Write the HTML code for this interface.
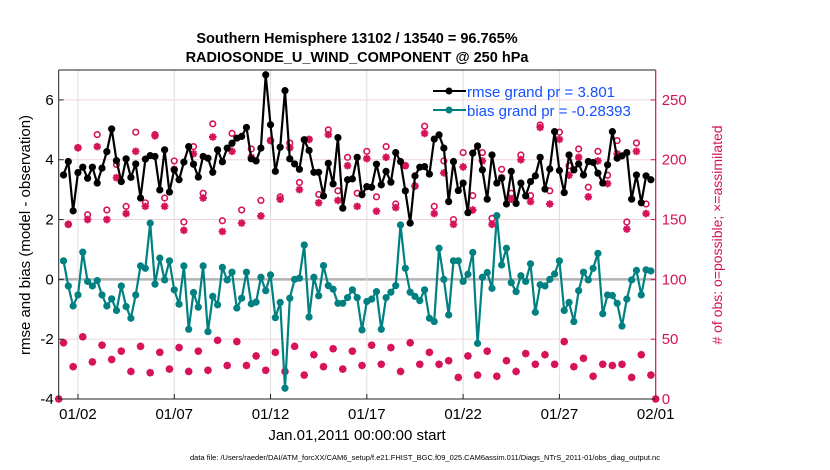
<!DOCTYPE html>
<html><head><meta charset="utf-8"><style>
body{margin:0;background:#fff;}
svg{display:block;font-family:"Liberation Sans",sans-serif;}
</style></head><body>
<svg id="chart" width="830" height="470" viewBox="0 0 830 470" xmlns="http://www.w3.org/2000/svg">
<rect x="0" y="0" width="830" height="470" fill="#fff"/>
<text x="357" y="43" text-anchor="middle" font-size="14.5" font-weight="bold">Southern Hemisphere 13102 / 13540 = 96.765%</text>
<text x="357" y="62" text-anchor="middle" font-size="14.5" font-weight="bold">RADIOSONDE_U_WIND_COMPONENT @ 250 hPa</text>
<g id="grid"></g>
<g id="marks"></g>
<g id="axes"></g>
<text x="357" y="440" text-anchor="middle" font-size="15">Jan.01,2011 00:00:00 start</text>
<text transform="translate(30,235) rotate(-90)" text-anchor="middle" font-size="15">rmse and bias (model - observation)</text>
<text transform="translate(722,235) rotate(-90)" text-anchor="middle" font-size="14" fill="#d6125a">
# of obs: o=possible; ×=assimilated</text>
<text x="425" y="460" text-anchor="middle" font-size="7.5">data file: /Users/raeder/DAI/ATM_forcXX/CAM6_setup/f.e21.FHIST_BGC.f09_025.CAM6assim.011/Diags_NTrS_2011-01/obs_diag_output.nc</text>
<g id="legend">
<line x1="433" y1="91" x2="466" y2="91" stroke="#000" stroke-width="2"/>
<circle cx="449" cy="91" r="3.5" fill="#000"/>
<text x="467" y="97" font-size="15" fill="#1450ff">rmse grand pr = 3.801</text>
<line x1="433" y1="110" x2="466" y2="110" stroke="#008080" stroke-width="2"/>
<circle cx="449" cy="110" r="3.5" fill="#008080"/>
<text x="467" y="116" font-size="15" fill="#1450ff">bias grand pr = -0.28393</text>
</g>
</svg>
<script>
const rmse = [null,
3.49,3.94,2.29,3.57,3.75,3.38,3.75,3.22,3.72,4.27,5.03,3.97,3.27,4.03,3.41,3.86,2.72,4.02,4.14,4.11,2.99,4.33,2.92,3.66,3.33,3.92,4.44,3.85,3.42,4.11,4.05,3.58,4.33,3.93,4.39,4.55,4.72,4.78,5.08,4.03,3.96,4.39,
6.84,5.17,3.61,4.42,6.31,4.03,3.86,3.68,4.67,4.31,3.58,3.58,2.79,3.88,3.19,4.74,2.38,3.33,3.36,4.08,2.83,3.10,3.08,3.85,3.16,3.61,3.25,4.24,3.94,2.96,1.88,3.46,3.75,3.77,3.52,4.69,4.83,4.39,2.60,3.94,2.97,
3.22,2.23,4.22,4.46,3.66,2.68,4.16,3.22,3.38,2.52,3.61,2.54,3.22,2.79,3.27,3.46,4.08,3.02,3.69,4.94,3.64,2.90,4.16,3.66,3.86,3.49,3.94,3.91,3.55,3.22,3.83,4.94,4.05,4.13,4.24,2.68,3.49,2.56,3.46,3.33,
null];
const bias = [null,
0.62,-0.22,-0.89,-0.52,0.91,-0.07,-0.22,-0.04,-0.52,-0.89,-0.65,-1.04,-0.22,-0.91,-1.30,-0.52,0.45,0.37,1.88,-0.16,0.71,-0.02,0.62,-0.35,-0.83,0.45,-1.67,-0.44,-0.93,0.45,-1.75,-0.57,-0.85,0.40,-0.02,0.24,-0.96,-0.63,0.24,-0.82,-0.76,0.07,
-0.38,0.15,-1.28,-0.77,-3.64,-0.63,0.0,0.04,1.15,-1.26,0.07,-0.55,0.46,-0.21,-0.33,-0.80,-0.80,-0.61,-0.35,-0.61,-1.69,-0.74,-0.66,-0.41,-1.67,-0.61,-0.43,-0.21,1.82,0.37,-0.43,-0.57,-0.71,-0.35,-1.30,-1.41,1.04,0.0,-1.19,0.62,0.62,
-0.07,0.17,0.9,-2.14,0.07,0.23,-0.3,2.13,0.48,1.04,-0.11,-0.41,0.12,-0.07,0.52,-1.10,-0.18,-0.22,0.0,0.18,0.62,-1.04,-0.77,-1.41,-0.38,0.24,-0.02,0.37,0.87,-1.15,-0.52,-0.54,-0.80,-1.56,-0.66,-0.02,0.30,-0.52,0.32,0.28,
null];
const possible = [0,
47,146,27,210,52,154,31,221,45,158,33,196,40,161,23,223,44,164,22,221,39,168,25,199,43,148,23,211,40,172,24,230,49,149,28,222,48,158,28,209,36,166,
24,216,39,169,23,214,44,181,20,217,37,171,27,225,42,174,25,202,40,172,28,207,45,169,29,211,43,163,23,195,47,178,29,228,39,161,29,199,32,150,18,
206,36,170,20,206,40,151,19,192,32,172,23,204,38,170,29,229,37,174,29,223,48,195,27,209,34,177,19,207,29,187,28,216,29,148,18,214,37,163,20,
0];
const assimilated = [0,
47,146,27,210,52,150,31,211,45,150,33,185,40,155,23,207,44,161,22,220,39,161,25,192,43,141,23,205,40,168,24,219,49,140,28,207,48,147,28,202,36,153,
24,216,39,167,23,210,44,175,20,217,37,164,27,221,42,166,25,195,40,161,28,201,45,157,29,202,43,160,23,195,47,178,29,222,39,155,29,189,32,146,18,
194,36,158,20,199,40,146,19,185,32,167,23,200,38,165,29,227,37,163,29,217,48,187,27,202,34,169,19,199,29,180,28,205,29,142,18,207,37,155,20,
0];
const leftTicks = [-4,-2,0,2,4,6];
const rightTicks = [0,50,100,150,200,250];
const dateTicks = [1,6,11,16,21,26,31];
const dateLabels = ["01/02","01/07","01/12","01/17","01/22","01/27","02/01"];
const stepDays = 0.25;

const NS="http://www.w3.org/2000/svg";
const X0=58.7,X1=655.7,Y0=70,Y1=399;
const xs=d=>X0+(d/31)*(X1-X0);
const yl=v=>Y1-(v+4)/11*(Y1-Y0);
const yr=v=>Y1-(v/275)*(Y1-Y0);
const MAG="#d6125a";
function mk(tag,attrs,parent){const e=document.createElementNS(NS,tag);for(const k in attrs)e.setAttribute(k,attrs[k]);parent.appendChild(e);return e;}
const grid=document.getElementById('grid'),marks=document.getElementById('marks'),axes=document.getElementById('axes');

leftTicks.forEach(v=>{
  const g=mk('line',{x1:X0,x2:X1,y1:yl(v),y2:yl(v),stroke:v===0?'#b3b3b3':'#f0d4de','stroke-width':v===0?2.5:1},grid);
  
  
  const t=mk('text',{x:X0-5,y:yl(v)+5,'text-anchor':'end','font-size':15},axes);
  t.textContent=String(v);
  
  
  mk('line',{x1:X0,x2:X0+5,y1:yl(v),y2:yl(v),stroke:'#222'},axes);
});
rightTicks.forEach(v=>{
  const t=mk('text',{x:X1+6,y:yr(v)+5,'font-size':15,fill:MAG},axes);
  t.textContent=String(v);
  
  
  mk('line',{x1:X1-5,x2:X1,y1:yr(v),y2:yr(v),stroke:MAG},axes);
});
dateTicks.forEach((d,i)=>{
  const g=mk('line',{x1:xs(d),x2:xs(d),y1:Y0,y2:Y1,stroke:'#dedede','stroke-width':1},grid);
  
  
  mk('line',{x1:xs(d),x2:xs(d),y1:Y1,y2:Y1-5,stroke:'#222'},axes);
  const t=mk('text',{x:xs(d),y:Y1+20,'text-anchor':'middle','font-size':15},axes);
  t.textContent=dateLabels[i];
  
  
});
const frame=mk('path',{d:`M${X0},${Y0}V${Y1}H${X1}M${X0},${Y0}H${X1}`,stroke:'#222',fill:'none','stroke-width':1},axes);


const rax=mk('line',{x1:X1,x2:X1,y1:Y0,y2:Y1,stroke:MAG,'stroke-width':1.2},axes);



possible.forEach((v,i)=>{
  const c=mk('circle',{cx:xs(i*stepDays),cy:yr(v),r:2.8,fill:'#fff',stroke:MAG,'stroke-width':1.6},marks);
  
  
});
assimilated.forEach((v,i)=>{
  const x=xs(i*stepDays),y=yr(v),r=3.8,q=2.7;
  const p=mk('path',{d:`M${x-r},${y}H${x+r}M${x},${y-r}V${y+r}M${x-q},${y-q}L${x+q},${y+q}M${x-q},${y+q}L${x+q},${y-q}`,stroke:MAG,'stroke-width':2},marks);
  
  
});
function series(arr,color,name){
  let d='';arr.forEach((v,i)=>{if(v===null)return;d+=(d?'L':'M')+xs(i*stepDays).toFixed(1)+','+yl(v).toFixed(1);});
  const l=mk('path',{d:d,stroke:color,fill:'none','stroke-width':2.2,'stroke-linejoin':'round'},marks);
  
  
  arr.forEach((v,i)=>{if(v===null)return;
    const c=mk('circle',{cx:xs(i*stepDays),cy:yl(v),r:3.6,fill:color},marks);
    
    
  });
}
series(rmse,'#000','rmse');
series(bias,'#008080','bias');
</script>
</body></html>
